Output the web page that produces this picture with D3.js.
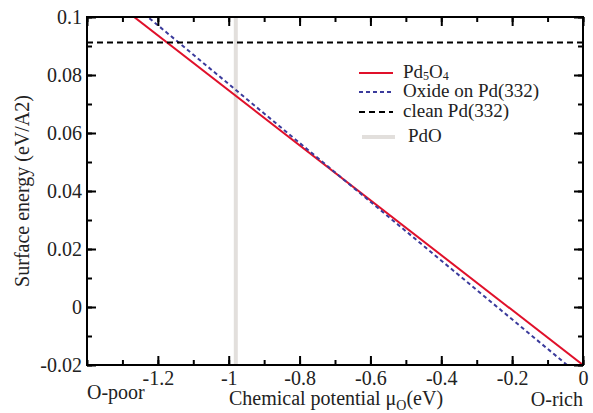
<!DOCTYPE html>
<html>
<head>
<meta charset="utf-8" />
<script src="https://cdn.jsdelivr.net/npm/d3@7"></script>
<style>
  body { margin: 0; background: #fff; }
</style>
</head>
<body>
<svg width="593" height="413"></svg>
<script>
// data
var xDomain = [-1.4, 0];
var yDomain = [-0.02, 0.1];
var xTicks = [-1.2, -1, -0.8, -0.6, -0.4, -0.2, 0];
var yTicks = [-0.02, 0, 0.02, 0.04, 0.06, 0.08, 0.1];

var pd5o4 = [[-1.4, 0.1126], [0, -0.02]];
var oxide = [[-1.3, 0.1073], [-0.045, -0.02]];
var clean = [[-1.4, 0.0912], [0, 0.0912]];
var pdoX = -0.98;

var series = [
  {name: "Pd5O4", data: pd5o4, color: "#e0102a", dash: null, width: 2},
  {name: "Oxide on Pd(332)", data: oxide, color: "#3b3b9c", dash: "4,3", width: 2},
  {name: "clean Pd(332)", data: clean, color: "#000", dash: "6,4", width: 2}
];

var FONT = "Liberation Serif";
var svg = d3.select("svg").attr("font-family", FONT);
var m = {left: 87, right: 10, top: 17, bottom: 48};
var W = 593, H = 413;

var x = d3.scaleLinear().domain(xDomain).range([m.left, W - m.right]);
var y = d3.scaleLinear().domain(yDomain).range([H - m.bottom, m.top]);

svg.append("clipPath").attr("id", "clip")
  .append("rect").attr("x", m.left).attr("y", m.top)
  .attr("width", x.range()[1] - m.left).attr("height", y.range()[0] - m.top);

var plot = svg.append("g").attr("clip-path", "url(#clip)");

// PdO vertical line
plot.append("line")
  .attr("x1", x(pdoX)).attr("x2", x(pdoX))
  .attr("y1", y.range()[1]).attr("y2", y.range()[0])
  .attr("stroke", "#e2dfdc").attr("stroke-width", 4);

var line = d3.line().x(function(d){ return x(d[0]); }).y(function(d){ return y(d[1]); });

plot.selectAll("path.series")
  .data(series)
  .enter().append("path")
  .attr("class", "series")
  .attr("d", function(d){ return line(d.data); })
  .attr("fill", "none")
  .attr("stroke", function(d){ return d.color; })
  .attr("stroke-width", function(d){ return d.width; })
  .attr("stroke-dasharray", function(d){ return d.dash; });

// axes: ticks inside, on all sides
var xMinor = d3.range(-1.4, 0.001, 0.1);
var yMinor = d3.range(-0.02, 0.1001, 0.01);

function tickAxis(axis, scale, minor, major, fmt, pad) {
  var g = svg.append("g");
  g.call(axis(scale).tickValues(minor).tickSizeInner(-5).tickSizeOuter(0).tickFormat(""));
  var g2 = svg.append("g");
  g2.call(axis(scale).tickValues(major).tickSizeInner(-9).tickSizeOuter(0)
    .tickPadding(pad || 3).tickFormat(fmt || ""));
  return [g, g2];
}

// hyphen minus like the original, not the unicode minus
var fmt = function(d){ return String(+d.toFixed(2)); };

var bx = tickAxis(d3.axisBottom, x, xMinor, xTicks, fmt, 6);
bx.forEach(function(g){ g.attr("transform", "translate(0," + y.range()[0] + ")"); });
var tx = tickAxis(d3.axisTop, x, xMinor, xTicks.concat([-1.4]), null);
tx.forEach(function(g){ g.attr("transform", "translate(0," + m.top + ")"); });
var ly = tickAxis(d3.axisLeft, y, yMinor, yTicks, fmt, 5);
ly.forEach(function(g){ g.attr("transform", "translate(" + m.left + ",0)"); });
var ry = tickAxis(d3.axisRight, y, yMinor, yTicks, null);
ry.forEach(function(g){ g.attr("transform", "translate(" + x.range()[1] + ",0)"); });

svg.selectAll(".domain").remove();
svg.selectAll(".tick line").attr("stroke", "#000").attr("stroke-width", 2);
svg.selectAll("g").attr("font-family", FONT).attr("font-size", 20);
svg.selectAll(".tick text").attr("fill", "#222");

// frame
svg.append("rect")
  .attr("x", m.left).attr("y", m.top)
  .attr("width", x.range()[1] - m.left).attr("height", y.range()[0] - m.top)
  .attr("fill", "none").attr("stroke", "#000").attr("stroke-width", 2);

// axis labels
svg.append("text")
  .attr("transform", "translate(29," + ((m.top + y.range()[0]) / 2) + ") rotate(-90)")
  .attr("text-anchor", "middle")
  .attr("font-size", 20).attr("fill", "#222")
  .text("Surface energy (eV/A2)");

var xl = svg.append("text")
  .attr("x", 336).attr("y", 405)
  .attr("text-anchor", "middle")
  .attr("font-size", 20).attr("fill", "#222");
xl.append("tspan").text("Chemical potential \u03bc");
xl.append("tspan").attr("dy", 5).attr("font-size", 14).text("O");
xl.append("tspan").attr("dy", -5).text("(eV)");

svg.append("text").attr("x", m.left).attr("y", 399)
  .attr("font-size", 20).attr("fill", "#222").text("O-poor");
svg.append("text").attr("x", x.range()[1]).attr("y", 406).attr("text-anchor", "end")
  .attr("font-size", 20).attr("fill", "#222").text("O-rich");

// legend
var legendRows = [
  {label: ["Pd", "5", "O", "4"], color: "#e0102a", dash: null, y: 73, x1: 359, x2: 393, tx: 403},
  {label: ["Oxide on Pd(332)"], color: "#3b3b9c", dash: "4,3", y: 92, x1: 359, x2: 393, tx: 403},
  {label: ["clean Pd(332)"], color: "#000", dash: "6,4", y: 112, x1: 359, x2: 393, tx: 403},
  {label: ["PdO"], color: "#e2dfdc", dash: null, y: 137, x1: 362, x2: 395, tx: 408, w: 4}
];

var lg = svg.append("g").attr("font-size", 19);
legendRows.forEach(function(r){
  lg.append("line")
    .attr("x1", r.x1).attr("x2", r.x2).attr("y1", r.y).attr("y2", r.y)
    .attr("stroke", r.color).attr("stroke-width", r.w || 2)
    .attr("stroke-dasharray", r.dash);
  var t = lg.append("text").attr("x", r.tx).attr("y", r.y + 5).attr("fill", "#222");
  if (r.label.length === 4) {
    t.append("tspan").text(r.label[0]);
    t.append("tspan").attr("dy", 2).attr("font-size", 12).text(r.label[1]);
    t.append("tspan").attr("dy", -2).text(r.label[2]);
    t.append("tspan").attr("dy", 2).attr("font-size", 12).text(r.label[3]);
  } else {
    t.text(r.label[0]);
  }
});
</script>
</body>
</html>
